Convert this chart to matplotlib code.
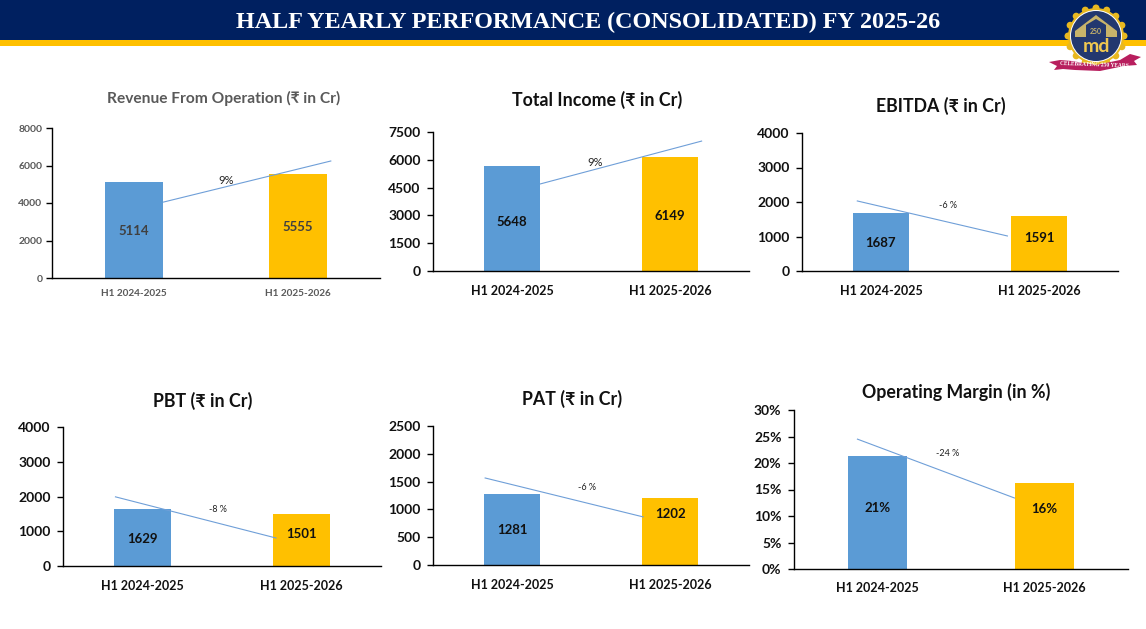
import numpy as np
import matplotlib
matplotlib.use('Agg')
import matplotlib.pyplot as plt
from matplotlib.patches import Circle, Polygon, Rectangle

plt.rcParams['font.family'] = ['Lato', 'Noto Sans', 'DejaVu Sans']

W, H = 1146, 629

page_title = 'HALF YEARLY PERFORMANCE (CONSOLIDATED) FY 2025-26'
categories = ['H1 2024-2025', 'H1 2025-2026']

titles = ['Revenue From Operation (₹ in Cr)', 'Total Income (₹ in Cr)', 'EBITDA (₹ in Cr)',
          'PBT (₹ in Cr)', 'PAT (₹ in Cr)', 'Operating Margin (in %)']
prev_values = [5114, 5648, 1687, 1629, 1281, 21.4]
curr_values = [5555, 6149, 1591, 1501, 1202, 16.3]
prev_labels = ['5114', '5648', '1687', '1629', '1281', '21%']
curr_labels = ['5555', '6149', '1591', '1501', '1202', '16%']
y_max = [8000, 7500, 4000, 4000, 2500, 30]
y_step = [2000, 1500, 1000, 1000, 500, 5]
change_labels = ['9%', '9%', '-6 %', '-8 %', '-6 %', '-24 %']

trend_start = [4050, 4700, 2030, 1990, 1565, 24.5]
trend_end = [6240, 7010, 1015, 805, 865, 13.4]

# layout in pixels: left, right, top, bottom of each plot area
boxes = [(52, 380, 128, 278), (433, 749, 132, 271), (802, 1118, 133, 271),
         (63, 381, 427, 566), (433, 749, 426, 565), (794, 1128, 410, 569)]
trend_x = [(0.18, 1.20), (0.18, 1.20), (-0.15, 0.80), (-0.17, 0.84), (-0.17, 0.83), (-0.12, 0.82)]
title_pos = [(224, 98), (597, 100), (941, 106), (203, 401), (572, 399), (956, 392)]
change_pos = [(226, 181), (595, 162), (948, 205), (218, 509), (587, 487), (948, 454)]
prev_label_y = [231, 222, 243, 539, 530, 508]
curr_label_y = [227, 216, 238, 534, 514, 509]
xlabel_y = [293, 291, 291, 586, 585, 588]

fig = plt.figure(figsize=(W / 100, H / 100), dpi=100, facecolor='white')

# page layer in pixel coordinates, used for the banner, logo and free text
page = fig.add_axes([0, 0, 1, 1], zorder=5)
page.set_xlim(0, W)
page.set_ylim(H, 0)
page.axis('off')
page.patch.set_alpha(0)

page.add_patch(Rectangle((0, 0), W, 40, color='#002060', lw=0))
page.add_patch(Rectangle((0, 40), W, 6, color='#FFC000', lw=0))
page.text(588, 22, page_title, color='white', family='Liberation Serif', weight='bold',
          fontsize=17.4, ha='center', va='center')


def draw_logo():
    cx, cy = 1096, 36
    angles = np.linspace(0, 2 * np.pi, 16, endpoint=False)
    for a in angles:
        page.add_patch(Circle((cx + 28 * np.cos(a), cy + 28 * np.sin(a)), 3.5, color='#E8B820', lw=0))
    page.add_patch(Circle((cx, cy), 28, color='#E8B820', lw=0))
    page.add_patch(Circle((cx, cy), 26, color='white', lw=0))
    page.add_patch(Circle((cx, cy), 25, color='#23386F', lw=0))
    page.add_patch(Polygon([(1075, 31), (1096, 15), (1117, 31), (1117, 37), (1075, 37)],
                           color='#C9B46A', lw=0))
    page.add_patch(Polygon([(1086, 25), (1096, 19), (1106, 25), (1106, 42), (1086, 42)],
                           color='#23386F', lw=0))
    page.text(1096, 31, '250', color='#C9B46A', fontsize=5, weight='bold', ha='center', va='center')
    page.text(1096, 46, 'md', color='#F0C850', fontsize=14, weight='bold', ha='center', va='center')
    page.add_patch(Polygon([(1049, 62), (1060, 60), (1072, 61), (1096, 65), (1120, 60), (1130, 54),
                            (1141, 57), (1134, 61), (1137, 65), (1124, 66), (1100, 71), (1075, 70),
                            (1063, 69), (1054, 70), (1057, 66)], color='#B81F5E', lw=0))
    page.text(1094, 65, 'CELEBRATING 250 YEARS', color='white', family='Liberation Serif',
              weight='bold', fontsize=4, ha='center', va='center', rotation=-2)


draw_logo()

for i in range(6):
    left, right, top, bottom = boxes[i]
    ax = fig.add_axes([left / W, 1 - bottom / H, (right - left) / W, (bottom - top) / H])
    # the first chart on the slide is smaller and grey, the others are black
    text_color = '#595959' if i == 0 else '#111111'
    tick_size = 7.5 if i == 0 else 10
    cat_size = 7.2 if i == 0 else 9
    value_size = 9.5

    ax.bar([0, 1], [prev_values[i], curr_values[i]], width=0.354, color=['#5B9BD5', '#FFC000'])
    ax.plot(trend_x[i], [trend_start[i], trend_end[i]], color='#6F9FD8', lw=0.8)
    ax.set_xlim(-0.5, 1.5)
    ax.set_ylim(0, y_max[i])
    ticks = np.arange(0, y_max[i] + 1, y_step[i])
    ax.set_yticks(ticks)
    tick_text = [f'{t}%' if i == 5 else str(t) for t in ticks]
    ax.set_yticklabels(tick_text, fontweight='bold', fontsize=tick_size, color=text_color)
    ax.set_xticks([0, 1])
    ax.set_xticklabels([])
    ax.tick_params(axis='x', length=0)
    ax.tick_params(axis='y', length=4, width=1, pad=3 if i == 0 else 5)
    ax.spines['top'].set_visible(False)
    ax.spines['right'].set_visible(False)
    ax.spines['left'].set_linewidth(1)
    ax.spines['bottom'].set_linewidth(1)

    # free text goes on the page layer so it sits exactly where the slide has it
    centre_a = left + (right - left) * 0.25
    centre_b = left + (right - left) * 0.75
    page.text(title_pos[i][0], title_pos[i][1], titles[i], color=text_color, weight='bold',
              fontsize=11.2 if i == 0 else 12.8, ha='center', va='center')
    page.text(change_pos[i][0], change_pos[i][1], change_labels[i], color='#222222',
              fontsize=8 if i < 2 else 6.5, ha='center', va='center')
    page.text(centre_a, prev_label_y[i], prev_labels[i], color='#404040' if i == 0 else '#111111',
              fontsize=value_size, weight='bold', ha='center', va='center')
    page.text(centre_b, curr_label_y[i], curr_labels[i], color='#404040' if i == 0 else '#111111',
              fontsize=value_size, weight='bold', ha='center', va='center')
    page.text(centre_a, xlabel_y[i], categories[0], color=text_color, weight='bold',
              fontsize=cat_size, ha='center', va='center')
    page.text(centre_b, xlabel_y[i], categories[1], color=text_color, weight='bold',
              fontsize=cat_size, ha='center', va='center')

fig.savefig('out.png', dpi=100)
